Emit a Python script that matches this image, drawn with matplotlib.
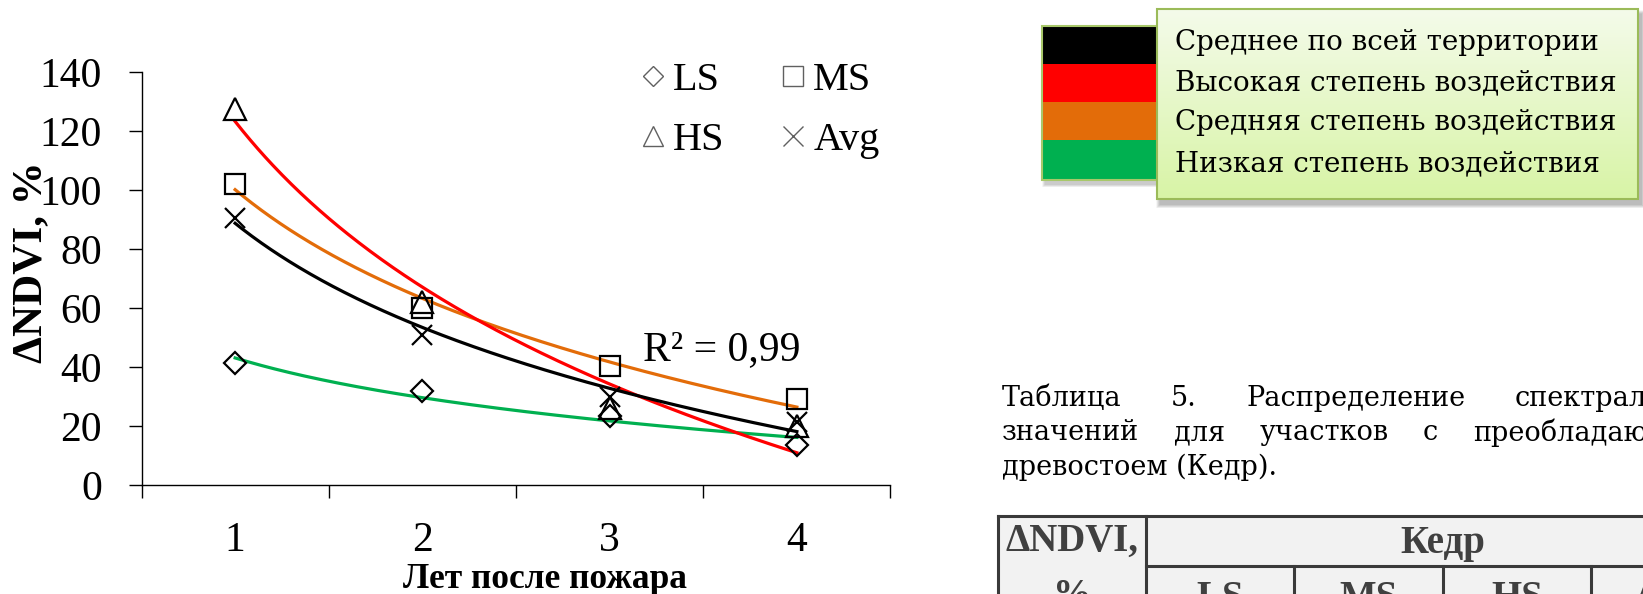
import numpy as np
import matplotlib
matplotlib.use("Agg")
import matplotlib.pyplot as plt
from matplotlib.patches import Rectangle
from matplotlib.lines import Line2D

# ---- chart data -------------------------------------------------------
years = [1, 2, 3, 4]
year_labels = ["1", "2", "3", "4"]
ls_vals = [41.5, 32, 23.5, 13.5]
ms_vals = [102, 60, 40.5, 29]
hs_vals = [127.5, 62, 26, 20]
avg_vals = [90.5, 51, 30, 21.5]
y_ticks = [0, 20, 40, 60, 80, 100, 120, 140]
series_names = ["LS", "MS", "HS", "Avg"]
r2_label = "R² = 0,99"
x_title = "Лет после пожара"
y_title = "ΔNDVI, %"

# ---- colour key ---------------------------------------------------------
key_labels = ["Среднее по всей территории", "Высокая степень воздействия",
              "Средняя степень воздействия", "Низкая степень воздействия"]
key_colors = ["#000000", "#FF0000", "#E36C09", "#00B050"]

# ---- caption and table head --------------------------------------------
caption_words = [["Таблица", "5.", "Распределение", "спектральных"],
                 ["значений", "для", "участков", "с", "преобладающим"],
                 ["древостоем (Кедр)."]]
# visible part of the last word of each justified line
caption_visible_tail = ["спектрал", "преобладаю", None]
table_top = ["ΔNDVI,", "Кедр"]
table_sub = ["%", "LS", "MS", "HS", "Avg"]

SERIF = ["Liberation Serif", "DejaVu Serif"]
BOOK = ["DejaVu Serif"]
W, H = 1643, 594

fig = plt.figure(figsize=(W / 100, H / 100), dpi=100)
fig.patch.set_facecolor("white")
renderer = fig.canvas.get_renderer()

# overlay in pixel coordinates for the page elements on the right
ov = fig.add_axes([0, 0, 1, 1], zorder=0)
ov.set_axis_off()
ov.patch.set_visible(False)
ov.set_xlim(0, W)
ov.set_ylim(H, 0)


def soft_shadow(x0, y0, x1, y1, dx=3, dy=4, steps=6):
    for i in range(steps):
        g = steps - i
        ov.add_patch(Rectangle((x0 + dx - g * 0.5, y0 + dy - g * 0.5),
                               (x1 - x0) + g, (y1 - y0) + g,
                               facecolor="#000000", edgecolor="none",
                               alpha=0.035, zorder=1))


# colour stripes
sx0, sx1 = 1042, 1160
sy = [26, 64, 102, 140, 180]
soft_shadow(sx0, sy[0], sx1, sy[-1])
for i, c in enumerate(key_colors):
    ov.add_patch(Rectangle((sx0, sy[i]), sx1 - sx0, sy[i + 1] - sy[i],
                           facecolor=c, edgecolor="none", zorder=2))
ov.add_patch(Rectangle((sx0, sy[0]), sx1 - sx0, sy[-1] - sy[0],
                       facecolor="none", edgecolor="#A8C86A", lw=1.5, zorder=3))

# text box with a soft green gradient
bx0, bx1, by0, by1 = 1157, 1638, 9, 199
soft_shadow(bx0, by0, bx1, by1, dx=3, dy=5, steps=8)
top_c = np.array([0xF4, 0xFB, 0xEA]) / 255
bot_c = np.array([0xD8, 0xF4, 0xA6]) / 255
t = np.linspace(0, 1, 64)[:, None, None]
grad = top_c * (1 - t) + bot_c * t
ov.imshow(grad, extent=[bx0, bx1, by1, by0], origin="upper",
          aspect="auto", zorder=4)
ov.add_patch(Rectangle((bx0, by0), bx1 - bx0, by1 - by0, facecolor="none",
                       edgecolor="#9BBB59", lw=1.5, zorder=5))
for i, lab in enumerate(key_labels):
    ov.text(1175, 42 + i * 40.5, lab, fontsize=20, family=BOOK,
            va="center", ha="left", color="#000000", zorder=6)
ov.set_xlim(0, W)
ov.set_ylim(H, 0)


def text_width(s, size):
    tx = ov.text(0, 0, s, fontsize=size, family=BOOK)
    w = tx.get_window_extent(renderer).width
    tx.remove()
    return w


# justified caption: the last word runs off the right edge of the page
cap_size = 19.5
cap_left = 1002
caption_y = [399, 433, 467]
for words, tail, yy in zip(caption_words, caption_visible_tail, caption_y):
    if tail is None:
        xs = [cap_left]
    else:
        last_x = W - text_width(tail, cap_size) + 4
        inner = sum(text_width(w, cap_size) for w in words[:-1])
        gap = (last_x - cap_left - inner) / (len(words) - 1)
        xs, cur = [], cap_left
        for w in words[:-1]:
            xs.append(cur)
            cur += text_width(w, cap_size) + gap
        xs.append(last_x)
    for w, xx in zip(words, xs):
        ov.text(xx, yy, w, fontsize=cap_size, family=BOOK, va="center",
                ha="left", color="#000000")

# table head
tx0, tcol, trow, ty0 = 998, 1146, 566, 516
sub_x = [1146, 1294, 1443, 1591, 1740]
ov.add_patch(Rectangle((tx0, ty0), 900, 200, facecolor="#F2F2F2",
                       edgecolor="none", zorder=1))
edge = dict(color="#3A3A3A", lw=2.2, zorder=3, solid_capstyle="projecting")
ov.plot([tx0, W + 5], [ty0, ty0], **edge)
ov.plot([tx0, tx0], [ty0, H + 5], **edge)
ov.plot([tcol, tcol], [ty0, H + 5], **edge)
ov.plot([tcol, W + 5], [trow, trow], **edge)
for xx in sub_x[1:-1]:
    ov.plot([xx, xx], [trow, H + 5], **edge)
head_style = dict(fontsize=28, family=SERIF, fontweight="bold",
                  color="#404040", ha="center", va="center", zorder=4)
ov.text((tx0 + tcol) / 2, 541, table_top[0], **head_style)
ov.text((sub_x[0] + sub_x[-1]) / 2, 543, table_top[1], **head_style)
ov.text((tx0 + tcol) / 2, 596, table_sub[0], **head_style)
for i, lab in enumerate(table_sub[1:]):
    ov.text((sub_x[i] + sub_x[i + 1]) / 2, 598, lab, **head_style)

ov.set_xlim(0, W)
ov.set_ylim(H, 0)

# ---- the chart ----------------------------------------------------------
ax = fig.add_axes([141.5 / W, 1 - 485 / H, 749 / W, 413 / H], zorder=2)
ax.patch.set_visible(False)

series = [
    (ls_vals, "D", 11, "#00B050"),
    (ms_vals, "s", 14.5, "#E36C09"),
    (hs_vals, "^", 15.5, "#FF0000"),
    (avg_vals, "x", 14.5, "#000000"),
]
x = np.array(years, dtype=float)
xf = np.linspace(x.min(), x.max(), 300)
for vals, mk, ms, col in series:
    # logarithmic trend line, least squares in ln(x)
    a, b = np.polyfit(np.log(x), np.array(vals, dtype=float), 1)
    ax.plot(xf, a * np.log(xf) + b, color=col, lw=2.3, zorder=2)
for vals, mk, ms, col in series:
    ax.plot(x, vals, linestyle="none", marker=mk, ms=ms, mfc="none",
            mec="black", mew=1.6, zorder=3)

ax.set_xlim(0.5, 4.5)
ax.set_ylim(0, 140)
for s in ["top", "right"]:
    ax.spines[s].set_visible(False)
for s in ["left", "bottom"]:
    ax.spines[s].set_linewidth(1.0)

ax.set_yticks(y_ticks)
ax.set_yticklabels([str(v) for v in y_ticks])
ax.tick_params(axis="y", direction="out", length=9.5, width=1.0, pad=19,
               labelsize=30)
ax.set_xticks(np.arange(0.5, 4.6, 1.0))
ax.set_xticklabels([])
ax.set_xticks(years, minor=True)
ax.set_xticklabels(year_labels, minor=True)
ax.tick_params(axis="x", which="major", direction="out", length=9.5, width=1.0)
ax.tick_params(axis="x", which="minor", length=0, pad=26, labelsize=30)
for lab in ax.get_xticklabels(minor=True) + ax.get_yticklabels():
    lab.set_family(SERIF)

ax.set_xlabel(x_title, fontsize=25.5, fontweight="bold", family=SERIF, va="center")
ax.xaxis.set_label_coords((545 - 141.5) / 749, (485 - 580) / 413)
ax.set_ylabel(y_title, fontsize=31, fontweight="bold", family=SERIF, va="center")
ax.yaxis.set_label_coords((31 - 141.5) / 749, (485 - 262) / 413)

ax.text(643, 350, r2_label, transform=ov.transData, fontsize=30,
        family=SERIF, va="center", ha="left")

# legend: two columns, marker-only entries in grey
leg_specs = {"LS": ("D", 10), "MS": ("s", 14), "HS": ("^", 14.5), "Avg": ("x", 14.5)}
order = ["LS", "HS", "MS", "Avg"]
handles = [Line2D([], [], linestyle="none", marker=leg_specs[n][0],
                  ms=leg_specs[n][1], mfc="none", mec="#606060", mew=1.0)
           for n in order]
leg = ax.legend(handles, order, ncol=2, frameon=False, loc="upper left",
                bbox_to_anchor=(643 / W, 1 - 62 / H),
                bbox_transform=fig.transFigure, borderpad=0, borderaxespad=0,
                handlelength=0.5, handletextpad=0.25, columnspacing=1.45,
                labelspacing=0.57, prop={"family": SERIF, "size": 29})

fig.savefig("out.png", dpi=100, facecolor="white")
